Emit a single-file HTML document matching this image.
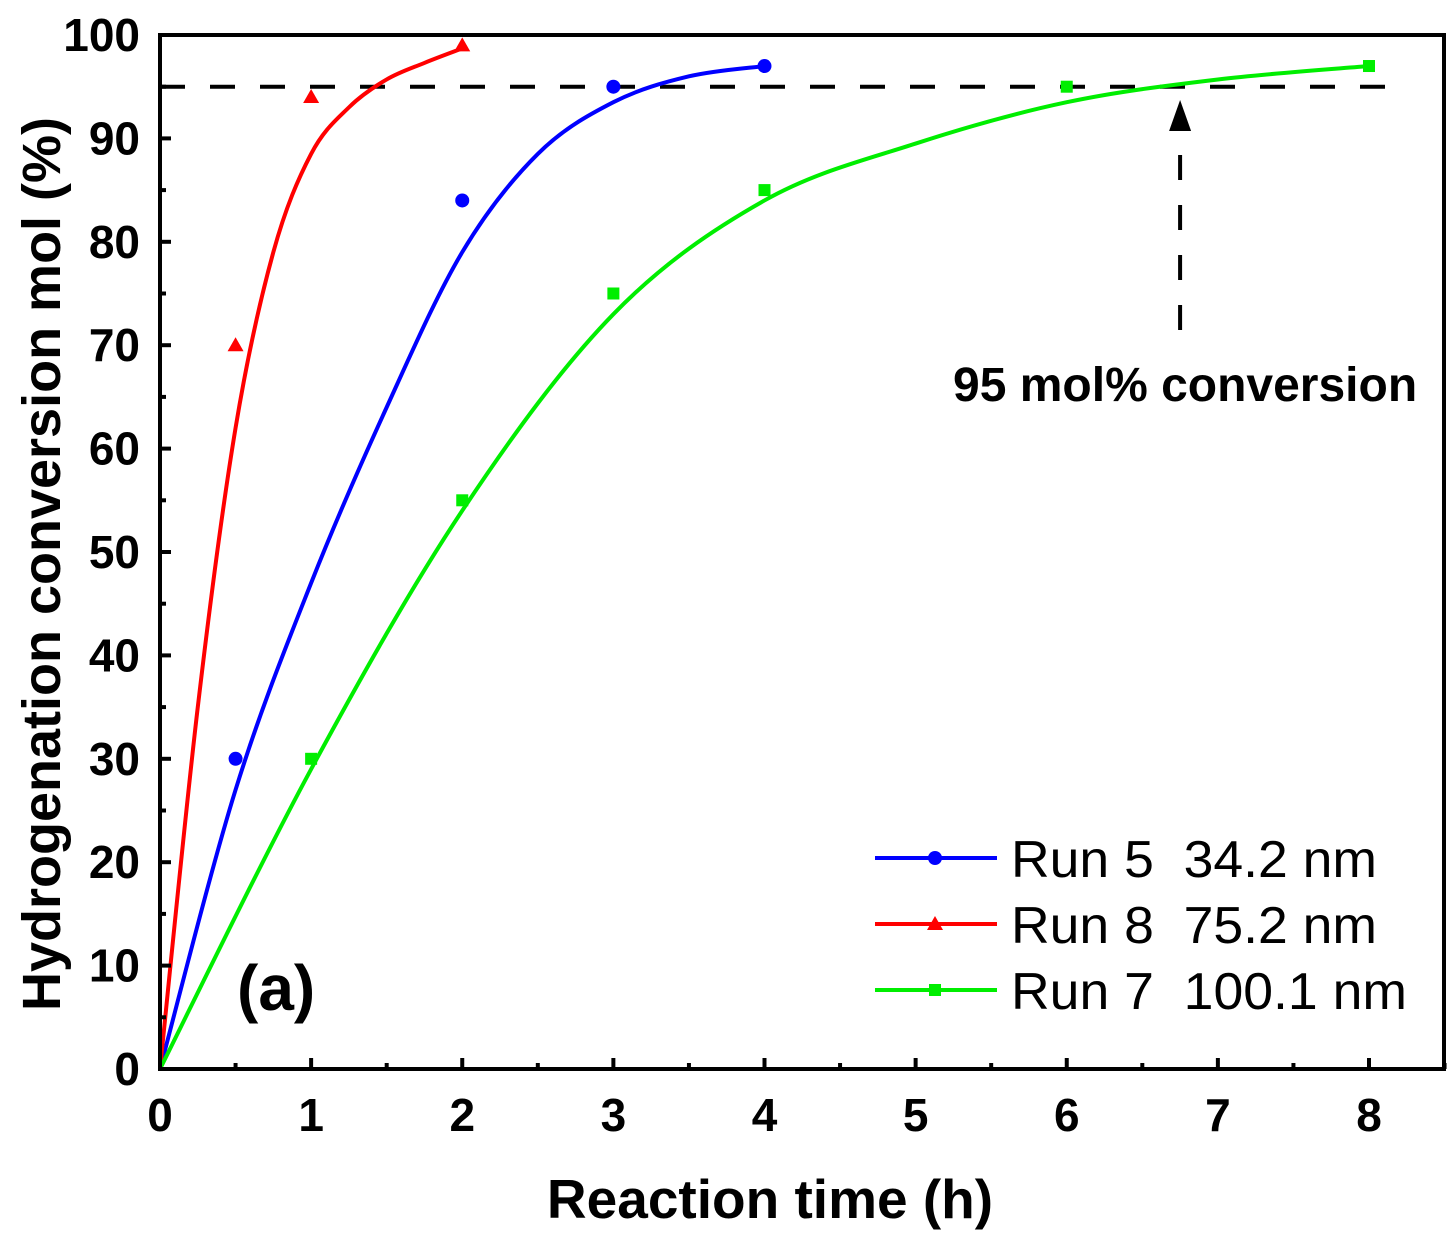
<!DOCTYPE html>
<html><head><meta charset="utf-8"><style>
body{margin:0;background:#fff}
svg text{font-family:"Liberation Sans",Arial,sans-serif;white-space:pre}
</style></head><body>
<svg id="chart" width="1449" height="1237" viewBox="0 0 1449 1237" xmlns="http://www.w3.org/2000/svg">
<rect width="1449" height="1237" fill="#fff"/>
<g id="plot"></g>
</svg>
<script>
const xTicks=[0,1,2,3,4,5,6,7,8];
const yTicks=[0,10,20,30,40,50,60,70,80,90,100];
const blueX=[0.5,2,3,4];const blueY=[30,84,95,97];
const redX=[0.5,1,2];const redY=[70,94,99];
const greenX=[1,2,3,4,6,8];const greenY=[30,55,75,85,95,97];
const blueFitX=[0,0.5,1,1.5,2,2.5,3,3.5,4];const blueFitY=[0,27,47,64,79,88.5,93.5,96,97];
const redFitX=[0,0.25,0.5,0.75,1,1.25,1.5,1.75,2];const redFitY=[0,35,62,79,88.5,93,95.7,97.3,98.7];
const greenFitX=[0,1,2,3,4,5,6,7,8];const greenFitY=[0,29,54,73,84,89.5,93.5,95.7,97];
const thresholdY=95;const arrowX=6.75;
const NS="http://www.w3.org/2000/svg";
const L=160,R=1444,T=35,B=1069;
const sx=v=>L+v*(1369-160)/8;
const sy=v=>B-v*(B-T)/100;
const g=document.getElementById('plot');
function mk(tag,at,parent){const e=document.createElementNS(NS,tag);for(const k in at)e.setAttribute(k,at[k]);(parent||g).appendChild(e);return e;}
function path(xs,ys){const p=xs.map((x,i)=>[sx(x),sy(ys[i])]);let d=`M${p[0][0]},${p[0][1]}`;
for(let i=0;i<p.length-1;i++){const p0=p[i-1]||p[i],p1=p[i],p2=p[i+1],p3=p[i+2]||p2;
d+=`C${p1[0]+(p2[0]-p0[0])/6},${p1[1]+(p2[1]-p0[1])/6} ${p2[0]-(p3[0]-p1[0])/6},${p2[1]-(p3[1]-p1[1])/6} ${p2[0]},${p2[1]}`;}return d;}
let e=mk('line',{x1:L,x2:1400,y1:sy(thresholdY),y2:sy(thresholdY),stroke:'#000','stroke-width':4,'stroke-dasharray':'25 25'});

e=mk('line',{x1:sx(arrowX),x2:sx(arrowX),y1:330,y2:130,stroke:'#000','stroke-width':4,'stroke-dasharray':'25 25'});

e=mk('polygon',{points:`${sx(arrowX)-11},131 ${sx(arrowX)+11},131 ${sx(arrowX)},100`,fill:'#000'});

const series=[['blue','#0000ff',blueFitX,blueFitY,blueX,blueY,'circle'],['red','#ff0000',redFitX,redFitY,redX,redY,'tri'],['green','#00ee00',greenFitX,greenFitY,greenX,greenY,'sq']];
function marker(type,x,y,c){if(type==='circle')return mk('circle',{cx:x,cy:y,r:7,fill:c});
if(type==='tri')return mk('polygon',{points:`${x-8},${y+6} ${x+8},${y+6} ${x},${y-8}`,fill:c});
return mk('rect',{x:x-6,y:y-6,width:12,height:12,fill:c});}
series.forEach(s=>{e=mk('path',{d:path(s[2],s[3]),fill:'none',stroke:s[1],'stroke-width':4});

s[4].forEach((x,i)=>{const m=marker(s[6],sx(x),sy(s[5][i]),s[1]);
});});
e=mk('rect',{x:L,y:T,width:R-L,height:B-T,fill:'none',stroke:'#000','stroke-width':4});

xTicks.forEach(v=>{e=mk('line',{x1:sx(v),x2:sx(v),y1:B,y2:B-11,stroke:'#000','stroke-width':4});

e=mk('line',{x1:sx(v+0.5),x2:sx(v+0.5),y1:B,y2:B-6,stroke:'#000','stroke-width':4});

const t=mk('text',{x:sx(v),y:1131,'text-anchor':'middle','font-size':46,'font-weight':'bold'});t.textContent=v;
});
yTicks.forEach(v=>{e=mk('line',{x1:L,x2:L+11,y1:sy(v),y2:sy(v),stroke:'#000','stroke-width':4});

if(v<100){e=mk('line',{x1:L,x2:L+6,y1:sy(v+5),y2:sy(v+5),stroke:'#000','stroke-width':4});
}
const t=mk('text',{x:140,y:sy(v)+16,'text-anchor':'end','font-size':46,'font-weight':'bold'});t.textContent=v;
});
</script>
<svg style="position:absolute;left:0;top:0" width="1449" height="1237">
<text x="770" y="1218" text-anchor="middle" font-size="55" font-weight="bold" font-family="Liberation Sans,sans-serif">Reaction time (h)</text>
<text transform="translate(60,564) rotate(-90)" text-anchor="middle" font-size="54" font-weight="bold" font-family="Liberation Sans,sans-serif">Hydrogenation conversion mol (%)</text>
<text x="237" y="1010" font-size="64" font-weight="bold" font-family="Liberation Sans,sans-serif">(a)</text>
<text x="953" y="401" font-size="48" font-weight="bold" font-family="Liberation Sans,sans-serif">95 mol% conversion</text>
<g font-family="Liberation Sans,sans-serif" font-size="52">
<line x1="875" x2="997" y1="858" y2="858" stroke="#0000ff" stroke-width="4"/><circle cx="935" cy="858" r="7" fill="#0000ff"/>
<text x="1011" y="877" textLength="366" lengthAdjust="spacingAndGlyphs" style="white-space:pre">Run 5  34.2 nm</text>
<line x1="875" x2="997" y1="924" y2="924" stroke="#ff0000" stroke-width="4"/><polygon points="927,930 943,930 935,916" fill="#ff0000"/>
<text x="1011" y="943" textLength="366" lengthAdjust="spacingAndGlyphs" style="white-space:pre">Run 8  75.2 nm</text>
<line x1="875" x2="997" y1="990" y2="990" stroke="#00ee00" stroke-width="4"/><rect x="929" y="984" width="12" height="12" fill="#00ee00"/>
<text x="1011" y="1009" textLength="396" lengthAdjust="spacingAndGlyphs" style="white-space:pre">Run 7  100.1 nm</text>
</g>
</svg>
</body></html>
